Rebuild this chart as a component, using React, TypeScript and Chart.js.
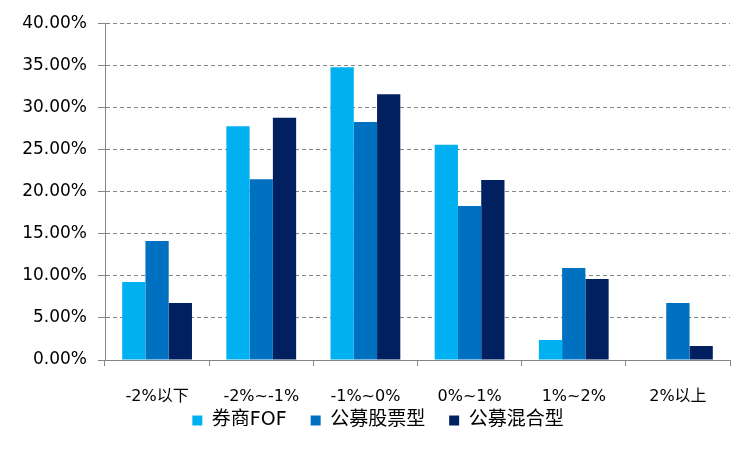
import React, { useEffect, useRef } from "react";
import { Chart, registerables } from "chart.js";

Chart.register(...registerables);

const categories = ["-2%以下", "-2%~-1%", "-1%~0%", "0%~1%", "1%~2%", "2%以上"];
const brokerFOF = [9.27, 27.8, 34.8, 25.6, 2.38, 0];
const publicStock = [14.15, 21.5, 28.3, 18.3, 10.94, 6.78];
const publicHybrid = [6.78, 28.8, 31.6, 21.4, 9.63, 1.66];
const seriesNames = ["券商FOF", "公募股票型", "公募混合型"];
const colors = ["#00B0F0", "#0070C0", "#002060"];

const FONT = "'DejaVu Sans', 'Noto Sans CJK SC', sans-serif";

const legendShift = {
  id: "legendShift",
  afterLayout(chart: any) {
    const lg = chart.legend;
    if (lg) {
      lg.left += 13;
      lg.right += 13;
      lg.top -= 25;
      lg.bottom -= 25;
    }
  },
};

export default function App() {
  const ref = useRef<HTMLCanvasElement>(null);
  useEffect(() => {
    document.body.style.margin = "0";
    const ctx = ref.current!;
    const chart = new Chart(ctx, {
      type: "bar",
      data: {
        labels: categories,
        datasets: [brokerFOF, publicStock, publicHybrid].map((d, i) => ({
          label: seriesNames[i],
          data: d,
          backgroundColor: colors[i],
          borderWidth: 0,
          categoryPercentage: 0.67,
          barPercentage: 1.0,
        })),
      },
      options: {
        animation: false,
        responsive: false,
        devicePixelRatio: 1,
        layout: { padding: { left: 0, right: 22, top: 23.5, bottom: -13 } },
        plugins: {
          tooltip: { enabled: false },
          legend: {
            position: "bottom",
            labels: {
              boxWidth: 10,
              boxHeight: 10,
              padding: 24,
              color: "#000",
              font: { family: FONT, size: 19 },
            },
          },
        },
        scales: {
          x: {
            grid: {
              display: true,
              drawOnChartArea: false,
              drawTicks: true,
              tickLength: 6,
              color: "#868686",
              lineWidth: 1,
            },
            border: { display: true, color: "#868686", width: 1 },
            ticks: {
              color: "#000",
              padding: 21,
              maxRotation: 0,
              font: { family: FONT, size: 16 },
            },
            afterFit: (scale: any) => {
              scale.height = 52;
            },
          },
          y: {
            min: 0,
            max: 40,
            ticks: {
              stepSize: 5,
              color: "#000",
              padding: 11,
              font: { family: FONT, size: 17 },
              callback: (v: any) => Number(v).toFixed(2) + "%",
            },
            grid: {
              color: "#868686",
              lineWidth: 1,
              tickLength: 7,
              drawTicks: true,
              tickColor: "#868686",
              tickBorderDash: [],
            } as any,
            border: { display: true, color: "#868686", width: 1, dash: [4, 3] },
            afterFit: (scale: any) => {
              scale.width = 105;
            },
          },
        },
      },
      plugins: [legendShift],
    });
    return () => chart.destroy();
  }, []);
  return (
    <div style={{ width: 752, height: 452, background: "#fff" }}>
      <canvas ref={ref} width={752} height={452} style={{ width: 752, height: 452 }} />
    </div>
  );
}
